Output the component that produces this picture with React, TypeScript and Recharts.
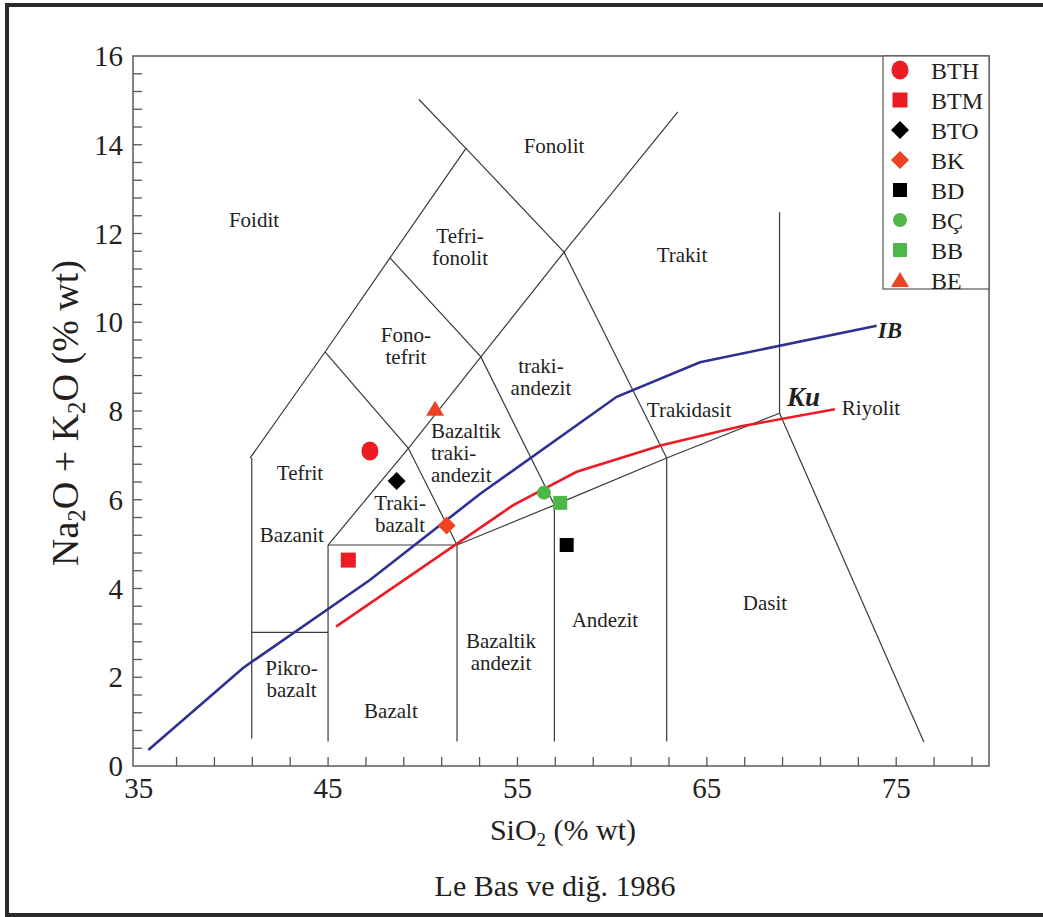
import React from 'react';
import { ComposedChart, Scatter, XAxis, YAxis, ReferenceArea } from 'recharts';

const FONT = '"Liberation Serif", "Times New Roman", serif';
const INK = '#231F20';

// samples (SiO2 vs Na2O+K2O)
const sampleNames = ['BTH', 'BTM', 'BTO', 'BK', 'BD', 'BÇ', 'BB', 'BE'];
const sampleSiO2 = [47.21, 46.07, 48.62, 51.26, 57.6, 56.4, 57.26, 50.65];
const sampleAlkali = [7.1, 4.64, 6.42, 5.42, 4.98, 6.16, 5.93, 8.05];

// Irvine & Baragar (IB) and Kuno (Ku) curves
const ibSiO2 = [35.51, 40.51, 47.21, 53.02, 60.24, 64.64, 73.97];
const ibAlkali = [0.36, 2.21, 4.19, 6.13, 8.32, 9.1, 9.92];
const kuSiO2 = [45.42, 54.78, 58.13, 62.61, 66.75, 71.76];
const kuAlkali = [3.14, 5.88, 6.63, 7.23, 7.65, 8.04];

// TAS field boundaries, [SiO2, alkali] vertices
const fieldLines: number[][][] = [
  [[40.97, 0.62], [40.97, 6.94]],
  [[40.97, 3.01], [45.0, 3.01]],
  [[45.0, 0.55], [45.0, 4.98]],
  [[45.0, 4.98], [51.81, 4.98]],
  [[51.81, 0.55], [51.81, 4.98]],
  [[56.95, 0.55], [56.95, 5.88]],
  [[62.88, 0.55], [62.88, 6.94]],
  [[51.81, 4.98], [56.95, 5.88], [62.88, 6.94], [68.84, 7.95]],
  [[68.84, 7.95], [68.84, 12.48]],
  [[68.84, 7.95], [76.46, 0.54]],
  [[45.0, 4.98], [49.24, 7.16], [53.07, 9.22], [57.46, 11.58], [63.47, 14.74]],
  [[40.88, 6.94], [44.84, 9.33], [48.27, 11.45], [52.28, 13.92]],
  [[49.8, 15.02], [52.28, 13.92], [57.46, 11.58], [62.88, 6.94]],
  [[44.84, 9.33], [49.24, 7.16], [51.81, 4.98]],
  [[48.27, 11.45], [53.07, 9.22], [56.95, 5.88]],
];

// field names
const fieldNames = [
  ['Foidit'], ['Fonolit'], ['Tefri-', 'fonolit'], ['Trakit'], ['Fono-', 'tefrit'],
  ['traki-', 'andezit'], ['Trakidasit'], ['Tefrit'], ['Bazaltik', 'traki-', 'andezit'],
  ['Traki-', 'bazalt'], ['Bazanit'], ['Pikro-', 'bazalt'], ['Bazalt'], ['Bazaltik', 'andezit'],
  ['Andezit'], ['Dasit'], ['Riyolit'], ['IB'], ['Ku'],
];
const fieldSiO2 = [41.09, 56.93, 51.97, 63.69, 49.11, 56.24, 64.06, 43.52, 50.43, 48.8, 43.09, 43.07, 48.32, 54.13, 59.62, 68.07, 72.13, 74.03, 69.23];
const fieldAlkali = [12.15, 13.81, 11.79, 11.36, 9.56, 8.86, 7.86, 6.45, 7.39, 5.77, 5.05, 2.05, 1.09, 2.66, 3.13, 3.52, 7.91, 9.65, 8.11];

const xTicks = [35, 37, 39, 41, 43, 45, 47, 49, 51, 53, 55, 57, 59, 61, 63, 65, 67, 69, 71, 73, 75, 77, 79];
const xLabels = [35, 45, 55, 65, 75];
const yTicks = Array.from({ length: 41 }, (_, i) => +(i * 0.4).toFixed(1));
const yLabels = [0, 2, 4, 6, 8, 10, 12, 14, 16];

const sampleStyle: Record<string, { kind: string; color: string }> = {
  BTH: { kind: 'bigCircle', color: '#ED1C24' },
  BTM: { kind: 'bigSquare', color: '#ED1C24' },
  BTO: { kind: 'diamond', color: '#000000' },
  BK: { kind: 'diamond', color: '#EF4123' },
  BD: { kind: 'square', color: '#000000' },
  'BÇ': { kind: 'circle', color: '#4DB748' },
  BB: { kind: 'square', color: '#4DB748' },
  BE: { kind: 'triangle', color: '#EF4123' },
};

const leftAligned = new Set(['Bazaltik traki- andezit', 'Riyolit', 'IB', 'Ku']);

function symbol(kind: string, color: string, cx: number, cy: number) {
  switch (kind) {
    case 'bigCircle':
      return <ellipse cx={cx} cy={cy} rx={8.5} ry={9.5} fill={color} />;
    case 'circle':
      return <circle cx={cx} cy={cy} r={7} fill={color} />;
    case 'bigSquare':
      return <rect x={cx - 7.5} y={cy - 7.5} width={15} height={15} fill={color} />;
    case 'square':
      return <rect x={cx - 7} y={cy - 7} width={14} height={14} fill={color} />;
    case 'diamond':
      return <polygon points={`${cx},${cy - 9} ${cx + 9},${cy} ${cx},${cy + 9} ${cx - 9},${cy}`} fill={color} />;
    case 'triangle':
      return <polygon points={`${cx},${cy - 8} ${cx + 9},${cy + 7} ${cx - 9},${cy + 7}`} fill={color} />;
    default:
      return <g />;
  }
}

const SampleShape = (props: any) => {
  const { cx, cy, payload } = props;
  const st = sampleStyle[payload.name];
  return symbol(st.kind, st.color, cx, cy);
};

const FieldLabel = (props: any) => {
  const { cx, cy, payload } = props;
  const key = payload.lines.join(' ');
  const isCurve = key === 'IB' || key === 'Ku';
  const anchor = leftAligned.has(key) ? 'start' : 'middle';
  return (
    <text
      x={cx}
      y={cy}
      textAnchor={anchor}
      fontFamily={FONT}
      fontSize={isCurve ? (key === 'Ku' ? 27 : 23) : 21}
      fontWeight={isCurve ? 'bold' : 'normal'}
      fontStyle={isCurve ? 'italic' : 'normal'}
      fill={INK}
    >
      {payload.lines.map((l: string, i: number) => (
        <tspan key={i} x={cx} dy={i === 0 ? 0 : 22}>{l}</tspan>
      ))}
    </text>
  );
};

const XTick = (props: any) => {
  const { x, y, payload } = props;
  const v = payload.value;
  return (
    <g>
      {v !== 35 && <line x1={x} x2={x} y1={y} y2={y - 9} stroke="#555" strokeWidth={1.3} />}
      {xLabels.includes(v) && (
        <text x={x} y={y + 32} textAnchor="middle" fontFamily={FONT} fontSize={29} fill={INK}>{v}</text>
      )}
    </g>
  );
};

const YTick = (props: any) => {
  const { x, y, payload } = props;
  const v = payload.value;
  return (
    <g>
      {v !== 0 && v !== 16 && <line x1={x} x2={x + 9} y1={y} y2={y} stroke="#555" strokeWidth={1.3} />}
      {yLabels.includes(v) && (
        <text x={x - 10} y={y + 10} textAnchor="end" fontFamily={FONT} fontSize={29} fill={INK}>{v}</text>
      )}
    </g>
  );
};

const noShape = () => <g />;

export default function App() {
  const samples = sampleNames.map((name, i) => ({ name, x: sampleSiO2[i], y: sampleAlkali[i] }));
  const ib = ibSiO2.map((x, i) => ({ x, y: ibAlkali[i] }));
  const ku = kuSiO2.map((x, i) => ({ x, y: kuAlkali[i] }));
  const labels = fieldNames.map((lines, i) => ({ lines, x: fieldSiO2[i], y: fieldAlkali[i] }));

  return (
    <div style={{ position: 'absolute', left: 0, top: 0, width: 1043, height: 917, overflow: 'hidden', background: '#fff' }}>
      <div
        style={{
          position: 'absolute', left: 5, top: 3, width: 1080, height: 914,
          border: '4px solid #2a2a2a', boxSizing: 'border-box',
        }}
      />
      <div style={{ position: 'absolute', left: 0, top: 0 }}>
        <ComposedChart width={1043} height={917} margin={{ top: 56, right: 54, bottom: 111, left: 73 }}>
          <XAxis
            type="number"
            dataKey="x"
            domain={[34.7, 79.9]}
            ticks={xTicks}
            interval={0}
            allowDataOverflow
            axisLine={false}
            tickLine={false}
            tickSize={0}
            tickMargin={0}
            height={40}
            tick={<XTick />}
          />
          <YAxis
            type="number"
            dataKey="y"
            domain={[0, 16]}
            ticks={yTicks}
            interval={0}
            allowDataOverflow
            axisLine={false}
            tickLine={false}
            tickSize={0}
            tickMargin={0}
            width={60}
            tick={<YTick />}
          />
          <ReferenceArea x1={34.7} x2={79.9} y1={0} y2={16} fill="none" stroke="#5a5a5a" strokeWidth={1.5} />
          {fieldLines.map((seg, i) => (
            <Scatter
              key={`f${i}`}
              data={seg.map(([x, y]) => ({ x, y }))}
              line={{ stroke: '#3a3a3a', strokeWidth: 1.2 }}
              shape={noShape}
              isAnimationActive={false}
            />
          ))}
          <Scatter data={ib} line={{ stroke: '#2E3192', strokeWidth: 2.6 }} shape={noShape} isAnimationActive={false} />
          <Scatter data={ku} line={{ stroke: '#ED1C24', strokeWidth: 2.6 }} shape={noShape} isAnimationActive={false} />
          <Scatter data={labels} shape={<FieldLabel />} isAnimationActive={false} />
          {samples.map((s) => (
            <Scatter key={s.name} data={[s]} shape={<SampleShape />} isAnimationActive={false} />
          ))}
        </ComposedChart>
      </div>
      <svg width={1043} height={917} style={{ position: 'absolute', left: 0, top: 0, pointerEvents: 'none' }}>
        <text transform="rotate(-90, 78, 413)" x={78} y={413} textAnchor="middle" fontFamily={FONT} fontSize={38} fill={INK}>
          Na<tspan dy={7} fontSize={25}>2</tspan><tspan dy={-7}>O + K</tspan><tspan dy={7} fontSize={25}>2</tspan><tspan dy={-7}>O (% wt)</tspan>
        </text>
        <text x={563} y={840} textAnchor="middle" fontFamily={FONT} fontSize={30} fill={INK}>
          SiO<tspan dy={6} fontSize={19}>2</tspan><tspan dy={-6}> (% wt)</tspan>
        </text>
        <text x={555} y={896} textAnchor="middle" fontFamily={FONT} fontSize={30} fill={INK}>Le Bas ve diğ. 1986</text>
        <rect x={883} y={56} width={106} height={233} fill="#fff" stroke="#555" strokeWidth={1.2} />
        {sampleNames.map((name, i) => {
          const cy = 70 + i * 30;
          const st = sampleStyle[name];
          return (
            <g key={name}>
              {symbol(st.kind, st.color, 900, cy)}
              <text x={931} y={cy + 8.5} fontFamily={FONT} fontSize={24} fill={INK}>{name}</text>
            </g>
          );
        })}
      </svg>
    </div>
  );
}
